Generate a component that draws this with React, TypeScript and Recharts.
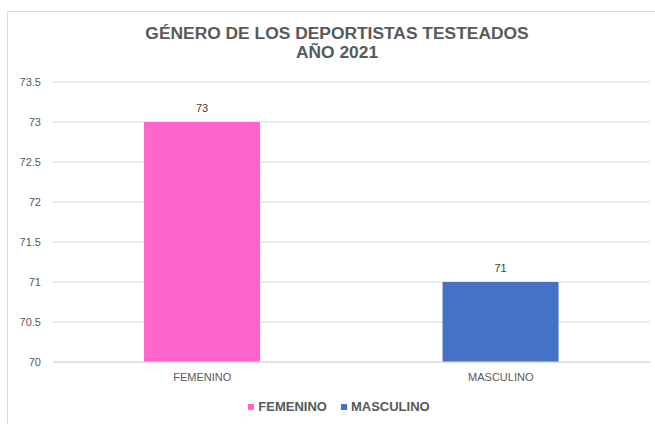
import { BarChart, Bar, XAxis, YAxis, CartesianGrid, Legend, LabelList, Cell, Customized } from "recharts";

const categories = ["FEMENINO", "MASCULINO"];
const values = [73, 71];
const yTicks = [70, 70.5, 71, 71.5, 72, 72.5, 73, 73.5];
const COLORS = ["#FF66CC", "#4472C4"];
const titleLines = ["GÉNERO DE LOS DEPORTISTAS TESTEADOS", "AÑO 2021"];

const data = categories.map((name, i) => ({ name, value: values[i] }));

const FONT = "'Liberation Sans', Arial, sans-serif";

const Frame = () => (
  <g>
    <rect x={7.5} y={11.5} width={700} height={500} fill="none" stroke="#d9d9d9" />
    {titleLines.map((line, i) => (
      <text
        key={line}
        x={337}
        y={39 + i * 19}
        textAnchor="middle"
        fontFamily={FONT}
        fontWeight="bold"
        fontSize={17.4}
        fill="#595959"
      >
        {line}
      </text>
    ))}
  </g>
);

const LegendContent = () => (
  <div
    style={{
      display: "flex",
      justifyContent: "center",
      gap: 14,
      paddingLeft: 23,
      fontFamily: FONT,
      fontWeight: "bold",
      fontSize: 13,
      color: "#595959",
    }}
  >
    {categories.map((c, i) => (
      <span key={c} style={{ display: "flex", alignItems: "center", gap: 4 }}>
        <span style={{ width: 6, height: 6, background: COLORS[i], display: "inline-block" }} />
        {c}
      </span>
    ))}
  </div>
);

export default function App() {
  return (
    <div style={{ position: "absolute", left: 0, top: 0 }}>
      <BarChart
        width={655}
        height={424}
        data={data}
        margin={{ top: 82, right: 5, bottom: 32, left: 0 }}
        barCategoryGap="30.5%"
      >
        <Customized component={Frame} />
        <CartesianGrid vertical={false} stroke="#d9d9d9" />
        <XAxis
          dataKey="name"
          height={30}
          tickLine={false}
          tickSize={0}
          tickMargin={11}
          axisLine={{ stroke: "#d9d9d9" }}
          tick={{ fontSize: 11, fill: "#595959", fontFamily: FONT }}
        />
        <YAxis
          type="number"
          domain={[70, 73.5]}
          ticks={yTicks}
          width={53}
          axisLine={false}
          tickLine={false}
          tickSize={0}
          tickMargin={12}
          tick={{ fontSize: 11, fill: "#595959", fontFamily: FONT }}
        />
        <Legend verticalAlign="middle" content={<LegendContent />} wrapperStyle={{ top: 399, left: 0, width: 655 }} />
        <Bar dataKey="value" isAnimationActive={false}>
          {data.map((entry, index) => (
            <Cell key={`cell-${index}`} fill={COLORS[index % COLORS.length]} />
          ))}
          <LabelList dataKey="value" position="top" offset={10} style={{ fontSize: 11, fill: "#404040", fontFamily: FONT }} />
        </Bar>
      </BarChart>
    </div>
  );
}
